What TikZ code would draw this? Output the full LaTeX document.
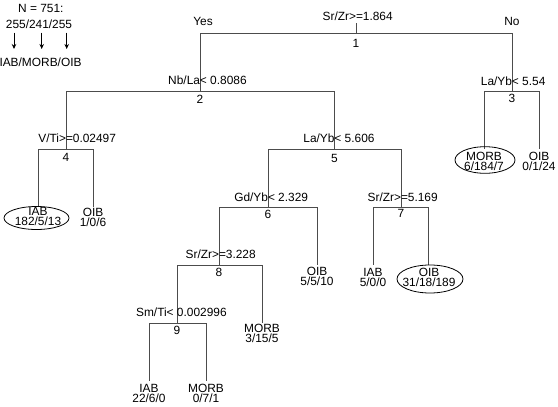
\documentclass[tikz,border=0pt]{standalone}
\usepackage{fontspec}
\setmainfont{Liberation Sans}
\usetikzlibrary{arrows.meta}
\newcommand\splitlab[2]{\llap{#1}\rlap{#2}}
\begin{document}
\begin{tikzpicture}[x=1pt,y=-1pt,
  every node/.style={inner sep=0pt, outer sep=0pt, font=\fontsize{11.9}{10}\selectfont},
  edge/.style={draw=black!70, line width=0.9pt},
  cond/.style={anchor=base},
  num/.style={anchor=base},
  leaf/.style={align=center, anchor=center},
  oval/.style={draw=black, line width=0.8pt},
  legarrow/.style={draw=black, line width=0.8pt, -{Stealth[length=5pt,width=4.5pt]}}]
\useasboundingbox (0,0) rectangle (558,407);

% ---- legend ----
\node (legN) at (40.8,8) {N = 751:};
\node (legcnt) at (39,24.5) {255/241/255};
\node (legcls) at (40.5,62) {IAB/MORB/OIB};
\coordinate (a1s) at (14,32.5);   \coordinate (a1e) at (14,49);
\coordinate (a2s) at (41.7,32.5); \coordinate (a2e) at (41.7,49);
\coordinate (a3s) at (66.7,32.5); \coordinate (a3e) at (66.7,49);
\draw[legarrow] (a1s) -- (a1e);
\draw[legarrow] (a2s) -- (a2e);
\draw[legarrow] (a3s) -- (a3e);

% ---- split points ----
\coordinate (r0) at (356,23);
\coordinate (n1) at (356,33);
\coordinate (n2) at (200,91);
\coordinate (n3) at (512,91);
\coordinate (n4) at (66,149);
\coordinate (n5) at (334.5,149);
\coordinate (n6) at (268,207);
\coordinate (n7) at (401,207);
\coordinate (n8) at (219,265);
\coordinate (n9) at (177,323);
% leaf tops
\coordinate (t4a) at (38,207);  \coordinate (t4b) at (93,207);
\coordinate (t3a) at (484,149); \coordinate (t3b) at (539,149);
\coordinate (t7a) at (373,265); \coordinate (t7b) at (428,265);
\coordinate (t6b) at (317,265);
\coordinate (t8b) at (262,323);
\coordinate (t9a) at (149,381); \coordinate (t9b) at (206,381);

% ---- connectors ----
\draw[edge] (r0) -- (n1);
\draw[edge] (n1) -| (n2);
\draw[edge] (n1) -| (n3);
\draw[edge] (n2) -| (n4);
\draw[edge] (n2) -| (n5);
\draw[edge] (n3) -| (t3a);
\draw[edge] (n3) -| (t3b);
\draw[edge] (n4) -| (t4a);
\draw[edge] (n4) -| (t4b);
\draw[edge] (n5) -| (n6);
\draw[edge] (n5) -| (n7);
\draw[edge] (n6) -| (n8);
\draw[edge] (n6) -| (t6b);
\draw[edge] (n7) -| (t7a);
\draw[edge] (n7) -| (t7b);
\draw[edge] (n8) -| (n9);
\draw[edge] (n8) -| (t8b);
\draw[edge] (n9) -| (t9a);
\draw[edge] (n9) -| (t9b);

% ---- split labels ----
\node[cond] (c1) at (356,20.7) {\splitlab{Sr/Zr>}{=1.864}};
\node[cond] (yes) at (203,25.2) {Yes};
\node[cond] (no) at (512,25.2) {No};
\node[num] (k1) at (356,47.4) {1};

\node[cond] (c2) at (200,84.7) {\splitlab{Nb/La}{< 0.8086}};
\node[num] (k2) at (200,103.2) {2};
\node[cond] (c3) at (512,85.2) {\splitlab{La/Yb}{< 5.54}};
\node[num] (k3) at (512,102.7) {3};

\node[cond] (c4) at (66,142.3) {\splitlab{V/Ti>}{=0.02497}};
\node[num] (k4) at (66,161.4) {4};
\node[cond] (c5) at (334.5,142.6) {\splitlab{La/Yb}{< 5.606}};
\node[num] (k5) at (334.5,162.4) {5};

\node[cond] (c6) at (268,201.3) {\splitlab{Gd/Yb}{< 2.329}};
\node[num] (k6) at (268,218.6) {6};
\node[cond] (c7) at (401,201.3) {\splitlab{Sr/Zr>}{=5.169}};
\node[num] (k7) at (401,217.8) {7};

\node[cond] (c8) at (219,258.4) {\splitlab{Sr/Zr>}{=3.228}};
\node[num] (k8) at (219,276.9) {8};

\node[cond] (c9) at (177,316.9) {\splitlab{Sm/Ti<\ }{0.002996}};
\node[num] (k9) at (177,334.2) {9};

% ---- leaves ----
\node[leaf] (l4a) at (38,216.8) {IAB\\182/5/13};
\draw[oval] (36.5,218) ellipse (32.5pt and 11.5pt);
\node[leaf] (l4b) at (93,217) {OIB\\1/0/6};

\node[leaf] (l3a) at (484,161.5) {MORB\\6/184/7};
\draw[oval] (485,160) ellipse (30pt and 13.3pt);
\node[leaf] (l3b) at (539,161.5) {OIB\\0/1/24};

\node[leaf] (l6b) at (317,276.3) {OIB\\5/5/10};

\node[leaf] (l7a) at (373,277.5) {IAB\\5/0/0};
\node[leaf] (l7b) at (429,277.5) {OIB\\31/18/189};
\draw[oval] (430,279) ellipse (33pt and 14pt);

\node[leaf] (l8b) at (262,333) {MORB\\3/15/5};

\node[leaf] (l9a) at (149,393) {IAB\\22/6/0};
\node[leaf] (l9b) at (206,393) {MORB\\0/7/1};
\end{tikzpicture}
\end{document}
